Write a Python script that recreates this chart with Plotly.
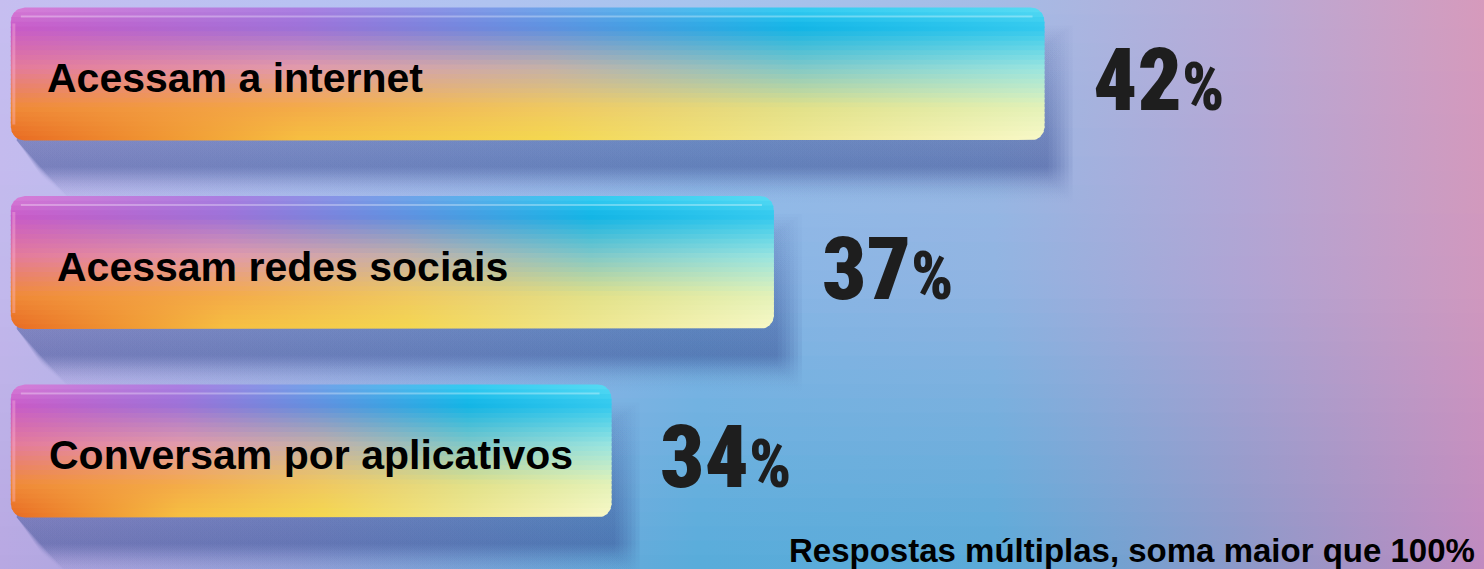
import numpy as np
import plotly.graph_objects as go

# ---------------- data ----------------
categories = ["Acessam a internet", "Acessam redes sociais", "Conversam por aplicativos"]
values = [42, 37, 34]
value_labels = ["42%", "37%", "34%"]
footnote = "Respostas múltiplas, soma maior que 100%"

# ---------------- layout / style constants ----------------
W, H = 1484, 569
X_RANGE = [22.70, 50.12]          # value axis (bars start at BASE)
Y_RANGE = [2.626, -0.3926]        # category axis, reversed
BASE = 22.9
HALF_H = 0.353                    # half bar thickness in category units
PX_X = W / (X_RANGE[1] - X_RANGE[0])
PX_Y = H / (Y_RANGE[0] - Y_RANGE[1])
RADIUS_PX = 14


def hx(c):
    c = c.lstrip("#")
    return np.array([int(c[i:i + 2], 16) for i in (0, 2, 4)], dtype=float)


def rgb(a, alpha=None):
    a = np.clip(np.round(a), 0, 255).astype(int)
    if alpha is None:
        return f"rgb({a[0]},{a[1]},{a[2]})"
    return f"rgba({a[0]},{a[1]},{a[2]},{alpha})"


def interp_rows(rows_v, grid, v):
    out = []
    ncol = len(grid[0])
    for j in range(ncol):
        col = np.array([hx(grid[r][j]) for r in range(len(grid))])
        c = np.array([np.interp(v, rows_v, col[:, k]) for k in range(3)])
        out.append(c)
    return out


# background colour grid
BG_U = [0, 0.2, 0.47, 0.67, 0.84, 1.0]
BG_V = [0, 0.5, 1.0]
BG_GRID = [
    ["#c6bef0", "#b8c2f2", "#a8c4ee", "#a4bce6", "#b8aad6", "#d69abc"],
    ["#c2b8ec", "#a8bcec", "#86b6e6", "#90b4e2", "#b0a4d4", "#d098be"],
    ["#b8a8e2", "#98a4dc", "#58acda", "#5aaad8", "#8c98c8", "#c08ac0"],
]

# bar colour grid (rows top->bottom, cols left->right)
BAR_U = [0, 0.28, 0.52, 0.76, 1.0]
BAR_V = [0, 0.15, 0.45, 0.75, 1.0]
BAR_GRID = [
    ["#d880d8", "#ac80e2", "#70a6ea", "#38cef2", "#5adcf4"],
    ["#c85ac8", "#9c70d8", "#5c90e0", "#10b4e6", "#30c8ee"],
    ["#e47a9a", "#e29aaa", "#c4b0a8", "#80c8c8", "#98e4e0"],
    ["#f08a38", "#f4aa48", "#f0c860", "#e2e088", "#e4f2b8"],
    ["#e86a22", "#f6c040", "#f4d850", "#f0e890", "#f8f8c8"],
]

fig = go.Figure()
NOLINE = dict(width=0, color="rgba(0,0,0,0)")

# ---------------- background ----------------
NBG = 40
for k in range(NBG):
    va, vb = k / NBG, min((k + 1) / NBG + 0.006, 1.0)
    vc = (k + 0.5) / NBG
    cols = interp_rows(BG_V, BG_GRID, vc)
    ya = Y_RANGE[1] + va * (Y_RANGE[0] - Y_RANGE[1])
    yb = Y_RANGE[1] + vb * (Y_RANGE[0] - Y_RANGE[1])
    fig.add_trace(go.Scatter(
        x=[X_RANGE[0], X_RANGE[1], X_RANGE[1], X_RANGE[0], X_RANGE[0]],
        y=[ya, ya, yb, yb, ya],
        mode="lines", fill="toself", line=NOLINE,
        fillgradient=dict(type="horizontal", start=X_RANGE[0], stop=X_RANGE[1],
                          colorscale=[[u, rgb(c)] for u, c in zip(BG_U, cols)]),
        hoverinfo="skip", showlegend=False))

rx = RADIUS_PX / PX_X
ry = RADIUS_PX / PX_Y


def inset(y, top, bot):
    d = min(y - top, bot - y)
    if d >= ry:
        return 0.0
    t = (ry - max(d, 0)) / ry
    return rx * (1 - np.sqrt(max(0.0, 1 - t * t)))


# ---------------- soft shadows (layered) ----------------
NSH = 7
for i, v in enumerate(values):
    top, bot = i - HALF_H, i + HALF_H
    for j in range(NSH):
        sx0 = BASE + 6 / PX_X
        sx1 = v + (4 + 4 * j) / PX_X
        sy0 = top + (36 - 3 * j) / PX_Y
        sy1 = bot + (40 + 4 * j) / PX_Y
        slant = (28 + 5 * j) / PX_X
        xs = [sx0, sx1, sx1, sx0 + slant, sx0, sx0]
        ys = [sy0, sy0, sy1, sy1, bot, sy0]
        peak = (bot + 26 / PX_Y - sy0) / (sy1 - sy0)
        peak = min(max(peak, 0.05), 0.95)
        fig.add_trace(go.Scatter(
            x=xs, y=ys, mode="lines", fill="toself", line=NOLINE,
            fillgradient=dict(type="vertical", start=sy0, stop=sy1,
                              colorscale=[[0, "rgba(50,70,140,0.02)"],
                                          [peak, "rgba(50,70,140,0.095)"],
                                          [1, "rgba(50,70,140,0)"]]),
            hoverinfo="skip", showlegend=False))

# ---------------- bars (gradient strips) ----------------
NS = 28
for i, v in enumerate(values):
    top, bot = i - HALF_H, i + HALF_H
    for k in range(NS):
        va = k / NS
        vb = min((k + 1) / NS + 0.012, 1.0)
        vc = (k + 0.5) / NS
        cols = interp_rows(BAR_V, BAR_GRID, vc)
        ya = top + va * (bot - top)
        yb = top + vb * (bot - top)
        ys = np.linspace(ya, yb, 8)
        xl = [BASE + inset(y, top, bot) for y in ys]
        xr = [v - inset(y, top, bot) for y in ys]
        fig.add_trace(go.Scatter(
            x=xl + xr[::-1] + [xl[0]], y=list(ys) + list(ys[::-1]) + [ys[0]],
            mode="lines", fill="toself", line=NOLINE,
            fillgradient=dict(type="horizontal", start=BASE, stop=v,
                              colorscale=[[u, rgb(c)] for u, c in zip(BAR_U, cols)]),
            hoverinfo="skip", showlegend=False))
    # top lip highlight
    yl = top + 9 / PX_Y
    fig.add_trace(go.Scatter(
        x=[BASE + 10 / PX_X, v - 12 / PX_X], y=[yl, yl], mode="lines",
        line=dict(width=2, color="rgba(255,255,255,0.30)"),
        hoverinfo="skip", showlegend=False))
    # left rim highlight
    xl_ = BASE + 3 / PX_X
    fig.add_trace(go.Scatter(
        x=[xl_, xl_], y=[top + 16 / PX_Y, bot - 16 / PX_Y], mode="lines",
        line=dict(width=3, color="rgba(255,190,220,0.35)"),
        hoverinfo="skip", showlegend=False))

# ---------------- text ----------------
LABEL_XSHIFT = [34, 44, 36]
for i, (c, v, lab) in enumerate(zip(categories, values, value_labels)):
    fig.add_annotation(x=BASE, y=i, xref="x", yref="y", text=f"<b>{c}</b>",
                       showarrow=False, xanchor="left", yanchor="middle",
                       xshift=LABEL_XSHIFT[i], yshift=-4,
                       font=dict(family="Liberation Sans, Arial, sans-serif", size=41, color="#000000"))
    num, pct = lab[:-1], lab[-1]
    fig.add_annotation(x=v, y=i, xref="x", yref="y",
                       text=f"{num}<span style='font-size:66px'>{pct}</span>",
                       showarrow=False, xanchor="left", yanchor="middle",
                       xshift=46, yshift=-6,
                       font=dict(family="Roboto Condensed, Liberation Sans Narrow, DejaVu Sans Condensed, sans-serif",
                                 size=87, color="#1e1e1e", weight=900))

fig.add_annotation(x=1, y=1 - 550 / H, xref="paper", yref="paper", text=f"<b>{footnote}</b>",
                   showarrow=False, xanchor="right", yanchor="middle", xshift=-7,
                   font=dict(family="Liberation Sans, Arial, sans-serif", size=33, color="#000000"))

fig.update_layout(
    width=W, height=H, margin=dict(l=0, r=0, t=0, b=0),
    paper_bgcolor="#b8c0ec", plot_bgcolor="rgba(0,0,0,0)",
    showlegend=False, hovermode=False,
    xaxis=dict(range=X_RANGE, visible=False, fixedrange=True),
    yaxis=dict(range=Y_RANGE, visible=False, fixedrange=True),
)

fig.write_html("out.html", config={"displayModeBar": False},
               post_script="document.body.style.margin='0';document.body.style.overflow='hidden';")
